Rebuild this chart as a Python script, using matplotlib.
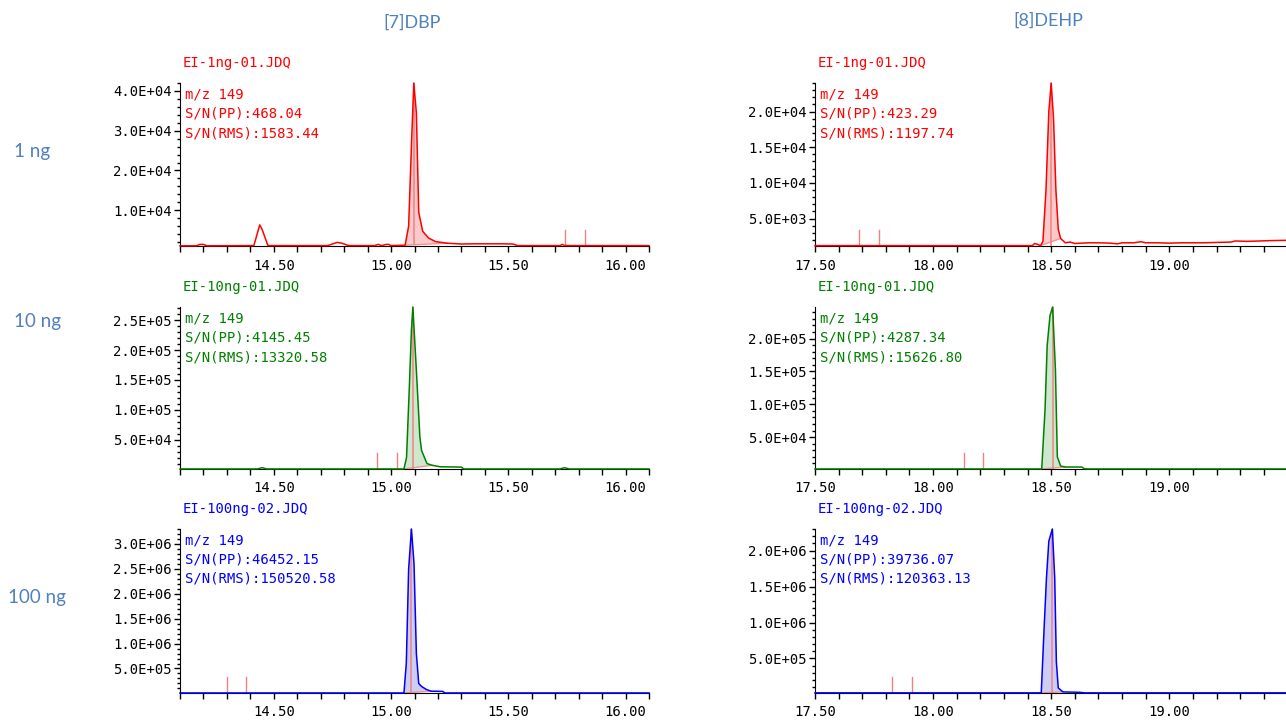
import numpy as np
import matplotlib
matplotlib.use("Agg")
import matplotlib.pyplot as plt
from matplotlib.ticker import MultipleLocator, FuncFormatter

# Column / row headings
compounds = ["[7]DBP", "[8]DEHP"]
amounts = ["1 ng", "10 ng", "100 ng"]
samples = ["EI-1ng-01.JDQ", "EI-10ng-01.JDQ", "EI-100ng-02.JDQ"]
mz_label = "m/z 149"

# S/N values (rows: 1, 10, 100 ng; cols: DBP, DEHP)
sn_pp = [["468.04", "423.29"], ["4145.45", "4287.34"], ["46452.15", "39736.07"]]
sn_rms = [["1583.44", "1197.74"], ["13320.58", "15626.80"], ["150520.58", "120363.13"]]

# ---- DBP 1 ng
dbp1_t = [14.10, 14.17, 14.185, 14.20, 14.215, 14.415, 14.44, 14.45, 14.475, 14.73,
          14.77, 14.79, 14.82, 14.93, 14.945, 14.96, 14.98, 14.99, 15.00, 15.06,
          15.075, 15.088, 15.097, 15.108, 15.118, 15.135, 15.16, 15.19, 15.24, 15.30,
          15.36, 15.47, 15.52, 15.54, 15.72, 15.73, 15.74, 16.10]
dbp1_v = [1050, 1050, 1400, 1400, 1050, 1100, 6300, 5200, 1100, 1100,
          1900, 1700, 1100, 1100, 1400, 1100, 1400, 1400, 1100, 1200,
          6000, 28000, 42000, 34500, 9500, 4700, 3000, 2100, 1700, 1500,
          1550, 1550, 1500, 1100, 1100, 1400, 1100, 1100]
# ---- DEHP 1 ng
dehp1_t = [17.50, 18.42, 18.43, 18.44, 18.455, 18.465, 18.478, 18.49, 18.50, 18.51,
           18.52, 18.53, 18.54, 18.56, 18.58, 18.60, 18.63, 18.66, 18.70, 18.75,
           18.78, 18.80, 18.85, 18.88, 18.90, 18.95, 19.00, 19.05, 19.10, 19.15,
           19.20, 19.26, 19.28, 19.33, 19.38, 19.42, 19.50]
dehp1_v = [1200, 1200, 1500, 1400, 1200, 1800, 9000, 20000, 24000, 19000,
           9000, 3500, 2200, 1600, 1700, 1500, 1550, 1600, 1600, 1550,
           1450, 1600, 1600, 1750, 1600, 1600, 1550, 1600, 1600, 1600,
           1650, 1700, 1850, 1800, 1850, 1900, 1950]
# ---- DBP 10 ng
dbp10_t = [14.10, 14.43, 14.45, 14.47, 15.055, 15.066, 15.078, 15.087, 15.093, 15.108,
           15.123, 15.13, 15.153, 15.175, 15.21, 15.30, 15.31, 15.72, 15.74, 15.76, 16.10]
dbp10_v = [900, 900, 3000, 900, 900, 20000, 138000, 234000, 272000, 166000,
           54000, 32000, 10000, 7000, 4500, 4000, 900, 900, 3000, 900, 900]
# ---- DEHP 10 ng
dehp10_t = [17.50, 18.46, 18.474, 18.483, 18.495, 18.506, 18.518, 18.526, 18.54, 18.56,
            18.63, 18.64, 18.66, 19.50]
dehp10_v = [1600, 1600, 92000, 189000, 235000, 248000, 153000, 20000, 6000, 4500,
            4500, 1800, 1600, 1600]
# ---- DBP 100 ng
dbp100_t = [14.10, 15.055, 15.065, 15.075, 15.087, 15.098, 15.108, 15.118, 15.13, 15.15,
            15.17, 15.22, 15.23, 16.10]
dbp100_v = [9000, 9000, 600000, 2500000, 3300000, 2600000, 800000, 200000, 140000, 80000,
            45000, 40000, 9000, 9000]
# ---- DEHP 100 ng
dehp100_t = [17.50, 18.458, 18.47, 18.48, 18.49, 18.505, 18.515, 18.522, 18.53, 18.55,
             18.62, 18.64, 19.50]
dehp100_v = [22000, 22000, 920000, 1620000, 2130000, 2300000, 1620000, 450000, 90000, 35000,
             30000, 22000, 22000]

# integration window: start, end, baseline at start, baseline at end, apex time
dbp1_peak = [15.06, 15.24, 1200, 1700, 15.097]
dehp1_peak = [18.455, 18.54, 1200, 2200, 18.50]
dbp10_peak = [15.055, 15.175, 900, 7000, 15.093]
dehp10_peak = [18.46, 18.56, 1600, 4500, 18.506]
dbp100_peak = [15.055, 15.17, 9000, 45000, 15.087]
dehp100_peak = [18.458, 18.55, 22000, 35000, 18.505]

# noise range markers
dbp1_noise = [15.74, 15.825]
dehp1_noise = [17.686, 17.77]
dbp10_noise = [14.94, 15.025]
dehp10_noise = [18.13, 18.21]
dbp100_noise = [14.30, 14.38]
dehp100_noise = [17.826, 17.91]

# axis ranges and y tick steps
dbp_xlim = (14.10, 16.10)
dehp_xlim = (17.50, 19.49)
ylims = [[(1000, 42000), (1150, 24000)],
         [(800, 272000), (1500, 248000)],
         [(8000, 3300000), (20000, 2300000)]]
ysteps = [[1e4, 5e3], [5e4, 5e4], [5e5, 5e5]]

traces = [[(dbp1_t, dbp1_v), (dehp1_t, dehp1_v)],
          [(dbp10_t, dbp10_v), (dehp10_t, dehp10_v)],
          [(dbp100_t, dbp100_v), (dehp100_t, dehp100_v)]]
peaks = [[dbp1_peak, dehp1_peak], [dbp10_peak, dehp10_peak], [dbp100_peak, dehp100_peak]]
noises = [[dbp1_noise, dehp1_noise], [dbp10_noise, dehp10_noise], [dbp100_noise, dehp100_noise]]

colors = ["#ff0000", "#008000", "#0000ff"]
fills = ["#fbcaca", "#cfe6cf", "#cdcdf5"]
head_color = "#4f81bd"
mark_color = "#f08080"

W, H = 1286, 722
fig = plt.figure(figsize=(W / 100, H / 100), dpi=100)
plt.rcParams["font.family"] = ["DejaVu Sans Mono"]

col_left = [180, 815]
col_width = [469, 470]
row_top = [83, 307, 529]
row_bottom = [246, 469, 693]

for r in range(3):
    for c in range(2):
        ax = fig.add_axes([col_left[c] / W, 1 - row_bottom[r] / H,
                           col_width[c] / W, (row_bottom[r] - row_top[r]) / H])
        t = np.array(traces[r][c][0])
        v = np.array(traces[r][c][1])
        start, end, b0, b1, apex = peaks[r][c]
        mask = (t >= start) & (t <= end)
        ax.fill(np.r_[t[mask], end, start], np.r_[v[mask], b1, b0],
                color=fills[r], lw=0, zorder=1)
        ax.plot([start, end], [b0, b1], color=mark_color, lw=1.0, alpha=0.8, zorder=2)
        ax.vlines(apex, b0, v.max(), color=mark_color, lw=1.2, alpha=0.9, zorder=2)
        for x in noises[r][c]:
            ax.axvline(x, ymin=0, ymax=0.1, color=mark_color, lw=1.0)
        ax.plot(t, v, color=colors[r], lw=1.1, zorder=3, clip_on=False)

        ax.set_xlim(dbp_xlim if c == 0 else dehp_xlim)
        ax.set_ylim(ylims[r][c])
        ax.spines["top"].set_visible(False)
        ax.spines["right"].set_visible(False)
        ax.xaxis.set_major_locator(MultipleLocator(0.5))
        ax.xaxis.set_minor_locator(MultipleLocator(0.1))
        ax.xaxis.set_major_formatter(FuncFormatter(lambda x, p: f"{x:.2f}"))
        ax.yaxis.set_major_locator(MultipleLocator(ysteps[r][c]))
        ax.yaxis.set_minor_locator(MultipleLocator(ysteps[r][c] / 5))
        ax.yaxis.set_major_formatter(FuncFormatter(lambda y, p: f"{y:.1E}"))
        ax.tick_params(axis="x", which="both", length=4, width=1, pad=5, labelsize=10)
        ax.tick_params(axis="y", which="major", length=4, width=1, pad=2, labelsize=10)
        ax.tick_params(axis="y", which="minor", length=2, width=1)

        ax.annotate(samples[r], (0, 1), xycoords="axes fraction", xytext=(3, 20),
                    textcoords="offset pixels", va="center", color=colors[r], fontsize=10)
        lines = [mz_label, "S/N(PP):" + sn_pp[r][c], "S/N(RMS):" + sn_rms[r][c]]
        for i, s in enumerate(lines):
            ax.annotate(s, (0, 1), xycoords="axes fraction", xytext=(5, -11 - 19.5 * i),
                        textcoords="offset pixels", va="center", color=colors[r], fontsize=10)

fig.text(412 / W, 1 - 23 / H, compounds[0], ha="center", va="center",
         color=head_color, fontsize=13, family="Lato")
fig.text(1048 / W, 1 - 21 / H, compounds[1], ha="center", va="center",
         color=head_color, fontsize=13, family="Lato")
for label, x, y in zip(amounts, [32, 37, 37], [152, 322, 598]):
    fig.text(x / W, 1 - y / H, label, ha="center", va="center",
             color=head_color, fontsize=13.5, family="Lato")

fig.savefig("out.png", dpi=100)
